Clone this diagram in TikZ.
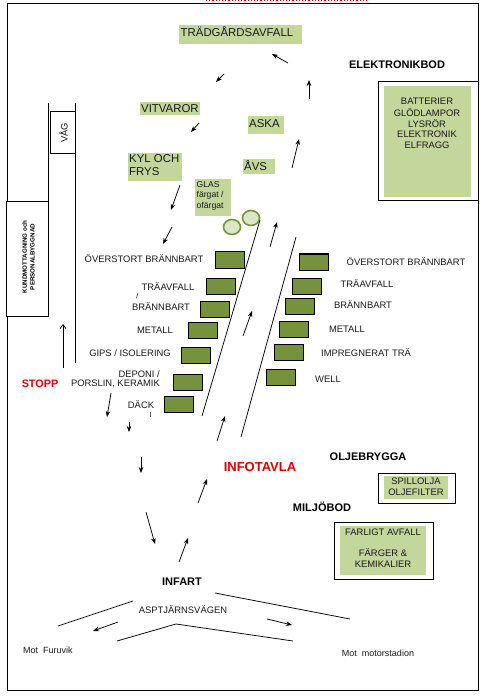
\documentclass[tikz,border=0pt]{standalone}
\usepackage{fontspec}
\setmainfont{Liberation Sans}
\usetikzlibrary{arrows.meta}
\definecolor{lightg}{HTML}{C3D69B}
\definecolor{darkg}{HTML}{76923C}
\newcommand{\fs}[1]{\fontsize{#1}{#1}\selectfont}
\tikzset{
  x=1pt,y=-1pt,
  frameline/.style={draw=black,line width=1pt},
  patch/.style={fill=lightg,draw=none},
  bin/.style={fill=darkg,draw=black,line width=1pt},
  flow/.style={draw=black,line width=0.75pt,-{Stealth[length=6pt,width=4.5pt]}},
  road/.style={draw=black,line width=0.75pt},
  lbl/.style={inner sep=0pt,text=black!90,font=\fs{9.4}},
  small/.style={inner sep=0pt,text=black!90,font=\fs{9}},
  head/.style={inner sep=0pt,text=black,font=\fs{11}\bfseries},
  big/.style={inner sep=0pt,text=black!90,font=\fs{11.4}},
  redt/.style={inner sep=0pt,text=red!85!black,font=\bfseries},
}
\begin{document}
\begin{tikzpicture}
\useasboundingbox (0,0) rectangle (484,700);
\fill[white] (0,0) rectangle (484,700);
\draw[red!80!black,line width=1.2pt,dotted] (206,0.6) -- (368,0.6);
\draw[frameline] (7.3,3.3) rectangle (478.7,690);
% green patches
\draw[patch] (179,25) rectangle (302,44);
\draw[patch] (140,102) rectangle (200,115);
\draw[patch] (248,116) rectangle (284,134);
\draw[patch] (128,153) rectangle (182,181);
\draw[patch] (243,159) rectangle (275,174);
\draw[patch] (195,179) rectangle (231,216);
\node[big,anchor=west] (tg) at (180.5,32) {TRÄDGÅRDSAVFALL};
\node[big,anchor=west] (vit) at (141,109) {VITVAROR};
\node[big,anchor=west] (aska) at (249,123.5) {ASKA};
\node[big,anchor=west] (kyl1) at (129,159) {KYL OCH};
\node[big,anchor=west] (kyl2) at (129,172) {FRYS};
\node[big,anchor=west] (avs) at (244,166) {ÅVS};
\node[small,anchor=west,font=\fs{8.6}] (gl1) at (196.5,184.5) {GLAS};
\node[small,anchor=west,font=\fs{8.6}] (gl2) at (196.5,195) {färgat /};
\node[small,anchor=west,font=\fs{8.6}] (gl3) at (196.5,206.5) {ofärgat};
% elektronikbod
\node[head] (ebod) at (397,65) {ELEKTRONIKBOD};
\draw[frameline,fill=white] (378,82) rectangle (478,201);
\draw[patch] (384,86) rectangle (471,197);
\node[lbl] (e1) at (427,101.5) {BATTERIER};
\node[lbl] (e2) at (427,112.5) {GLÖDLAMPOR};
\node[lbl] (e3) at (427,123.5) {LYSRÖR};
\node[lbl] (e4) at (427,134.5) {ELEKTRONIK};
\node[lbl] (e5) at (427,145.5) {ELFRAGG};
% vag
\draw[road] (48.5,103) -- (48.5,201.5);
\draw[road] (75,103) -- (75,363);
\draw[frameline,fill=white] (50,112) rectangle (75,154);
\node[lbl,rotate=90] (vag) at (63.5,133) {VÅG};
\draw[frameline,fill=white] (6.5,201.5) rectangle (48.5,316.7);
\node[inner sep=0pt,rotate=90,font=\fs{6.2}\bfseries,align=center] (kund) at (28.5,257) {KUNDMOTTAGNING och\\[1.5pt]PERSONALBYGGNAD};
\draw[draw=black,line width=0.75pt,-{Straight Barb[length=4pt,width=6pt]}] (63,368) -- (63,324);
\node[redt,font=\fs{10.8}\bfseries] (stopp) at (40,384) {STOPP};
% circles
\draw[draw=darkg,fill=lightg!60!white,line width=1.6pt] (232,227) ellipse (8.5 and 7.5);
\draw[draw=darkg,fill=lightg!60!white,line width=1.6pt] (251,218) ellipse (8.5 and 7.5);
% roads
\draw[road] (260,220) -- (202,416);
\draw[road] (296,237) -- (241,437);
% bins
\foreach \x/\y in {215/252,206/278,200/301,188/322,181/347,173/374,164/396,299/254,292/278,285/298,279/321,274/344,266/369}
  \draw[bin] (\x,\y) rectangle +(29.5,16.5);
% labels
\node[lbl] (l1) at (144,259) {ÖVERSTORT BRÄNNBART};
\node[lbl] (l2) at (168,287) {TRÄAVFALL};
\node[lbl] (l3) at (161,307) {BRÄNNBART};
\node[lbl] (l4) at (155,330) {METALL};
\node[lbl] (l5) at (130,353) {GIPS / ISOLERING};
\node[lbl,anchor=east] (l6a) at (160,374) {DEPONI /};
\node[lbl,anchor=east] (l6b) at (160,384) {PORSLIN, KERAMIK};
\node[lbl] (l7) at (141,405) {DÄCK};
\draw[road,line width=0.5pt] (136.5,298) -- (138,293);
\draw[road,line width=0.5pt,draw=black!60] (150,412) -- (150,417);
\node[lbl] (r1) at (406,262) {ÖVERSTORT BRÄNNBART};
\node[lbl] (r2) at (367,284) {TRÄAVFALL};
\node[lbl] (r3) at (363,305) {BRÄNNBART};
\node[lbl] (r4) at (347,329) {METALL};
\node[lbl] (r5) at (366,353) {IMPREGNERAT TRÄ};
\node[lbl] (r6) at (328,379) {WELL};
% arrows
\draw[flow] (288,63) -- (272,54);
\draw[flow] (224,74) -- (216,82);
\draw[flow] (309,99) -- (309,80);
\draw[flow] (199,123) -- (191,132);
\draw[flow] (292,168) -- (299,139);
\draw[flow] (180,185) -- (171,210);
\draw[flow] (172,227) -- (163,244);
\draw[flow] (270,247) -- (277,222);
\draw[flow] (243,336) -- (252,311);
\draw[flow] (111,393) -- (107,417);
\draw[flow] (129,422) -- (129,432);
\draw[flow] (141,457) -- (141,473);
\draw[flow] (217,441) -- (225,416);
\draw[flow] (198,503) -- (207,479);
\draw[flow] (146,512) -- (155,544);
\draw[flow] (179,562) -- (188,538);
\draw[flow] (118,622) -- (93,631);
\draw[flow] (267,619) -- (292,625);
% lower
\node[redt,font=\fs{13}\bfseries] (info) at (260,467) {INFOTAVLA};
\node[head] (olj) at (368,457) {OLJEBRYGGA};
\draw[frameline,fill=white] (378,473) rectangle (455,503);
\draw[patch] (384,476) rectangle (448,499);
\node[lbl] (o1) at (416,481.5) {SPILLOLJA};
\node[lbl] (o2) at (416,492.5) {OLJEFILTER};
\node[head] (milj) at (322,507) {MILJÖBOD};
\draw[frameline,fill=white] (334,522) rectangle (433,579);
\draw[patch] (340,526) rectangle (426,575);
\node[lbl] (f1) at (383,532) {FARLIGT AVFALL};
\node[lbl] (f2) at (383,553) {FÄRGER \&};
\node[lbl] (f3) at (383,564) {KEMIKALIER};
\node[head] (inf) at (182,582) {INFART};
\node[lbl] (asp) at (183,610) {ASPTJÄRNSVÄGEN};
\draw[road] (58,626) -- (133,601);
\draw[road] (215,593) -- (350,619);
\draw[road] (117,641) -- (176,624) -- (293,641);
\node[small] (m1) at (48,650) {Mot\ \ Furuvik};
\node[small] (m2) at (378,653) {Mot\ \ motorstadion};
\end{tikzpicture}
\end{document}
